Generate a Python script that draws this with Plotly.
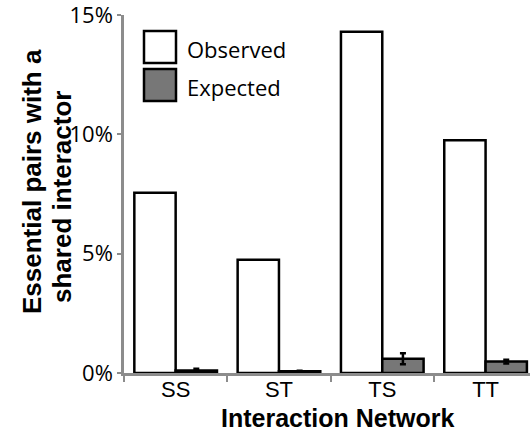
import plotly.graph_objects as go

# Share of essential gene pairs with a shared interactor, per interaction network
networks = ["SS", "ST", "TS", "TT"]
observed = [7.55, 4.75, 14.3, 9.75]
expected = [0.10, 0.07, 0.60, 0.48]
expected_err = [0.08, 0.02, 0.23, 0.08]
y_ticks = [0, 5, 10, 15]
y_tick_labels = ["0%", "5%", "10%", "15%"]

W, H = 530, 432
ML, MR, MT, MB = 124, 0, 15, 59
PW, PH = W - ML - MR, H - MT - MB


def px_x(x):
    return (x - ML) / PW


def px_y(y):
    return (H - MB - y) / PH


AXIS_GREY = "#8c8c8c"
BAR_EDGE = dict(color="black", width=2.5)

fig = go.Figure()
fig.add_trace(go.Bar(
    x=networks, y=observed, name="Observed",
    marker=dict(color="white", line=BAR_EDGE),
    showlegend=False,
))
fig.add_trace(go.Bar(
    x=networks, y=expected, name="Expected",
    marker=dict(color="#777777", line=BAR_EDGE),
    error_y=dict(type="data", array=expected_err, color="black",
                 thickness=2.5, width=3),
    showlegend=False,
))

# Legend drawn as large swatches with labels
legend_items = [("Observed", "white", 31, 63), ("Expected", "#777777", 69, 101)]
shapes = []
annotations = []
for label, fill, top, bottom in legend_items:
    shapes.append(dict(
        type="rect", xref="paper", yref="paper",
        x0=px_x(144), x1=px_x(176), y0=px_y(bottom), y1=px_y(top),
        fillcolor=fill, line=dict(color="black", width=2.5),
    ))
    annotations.append(dict(
        text=label, xref="paper", yref="paper",
        x=px_x(185), y=px_y((top + bottom) / 2 + 1.5),
        xanchor="left", yanchor="middle", showarrow=False,
        font=dict(family="Open Sans", size=22, color="black"),
    ))

# Axis titles
annotations.append(dict(
    text="<b>Interaction Network</b>", xref="paper", yref="paper",
    x=px_x(337), y=px_y(417.5), xanchor="center", yanchor="middle",
    showarrow=False,
    font=dict(family="Liberation Sans", size=25, color="black"),
))
annotations.append(dict(
    text="<b>Essential pairs with a</b>", xref="paper", yref="paper",
    x=px_x(32), y=px_y(182), xanchor="center", yanchor="middle",
    textangle=-90, showarrow=False,
    font=dict(family="Liberation Sans", size=26, color="black"),
))
annotations.append(dict(
    text="<b>shared interactor</b>", xref="paper", yref="paper",
    x=px_x(62), y=px_y(197), xanchor="center", yanchor="middle",
    textangle=-90, showarrow=False,
    font=dict(family="Liberation Sans", size=26, color="black"),
))

fig.update_layout(
    width=W, height=H,
    margin=dict(l=ML, r=MR, t=MT, b=MB, pad=0),
    paper_bgcolor="white", plot_bgcolor="white",
    barmode="group", bargap=0.2, bargroupgap=0,
    shapes=shapes, annotations=annotations,
    showlegend=False,
)
fig.update_xaxes(
    type="category", range=[-0.5, 3.43],
    showline=True, linecolor=AXIS_GREY, linewidth=2.5,
    ticks="outside", tickson="boundaries", ticklen=6, tickwidth=2,
    tickcolor=AXIS_GREY, showgrid=False, zeroline=False,
    ticklabelstandoff=-5,
    tickfont=dict(family="Liberation Sans", size=22, color="black"),
)
fig.update_yaxes(
    range=[0, 15], tickvals=y_ticks, ticktext=y_tick_labels,
    showline=True, linecolor=AXIS_GREY, linewidth=2.5,
    ticks="outside", ticklen=4, tickwidth=2, tickcolor=AXIS_GREY,
    showgrid=False, zeroline=False, ticklabeloverflow="allow",
    tickfont=dict(family="Open Sans", size=22, color="black"),
)

fig.write_html("out.html")
